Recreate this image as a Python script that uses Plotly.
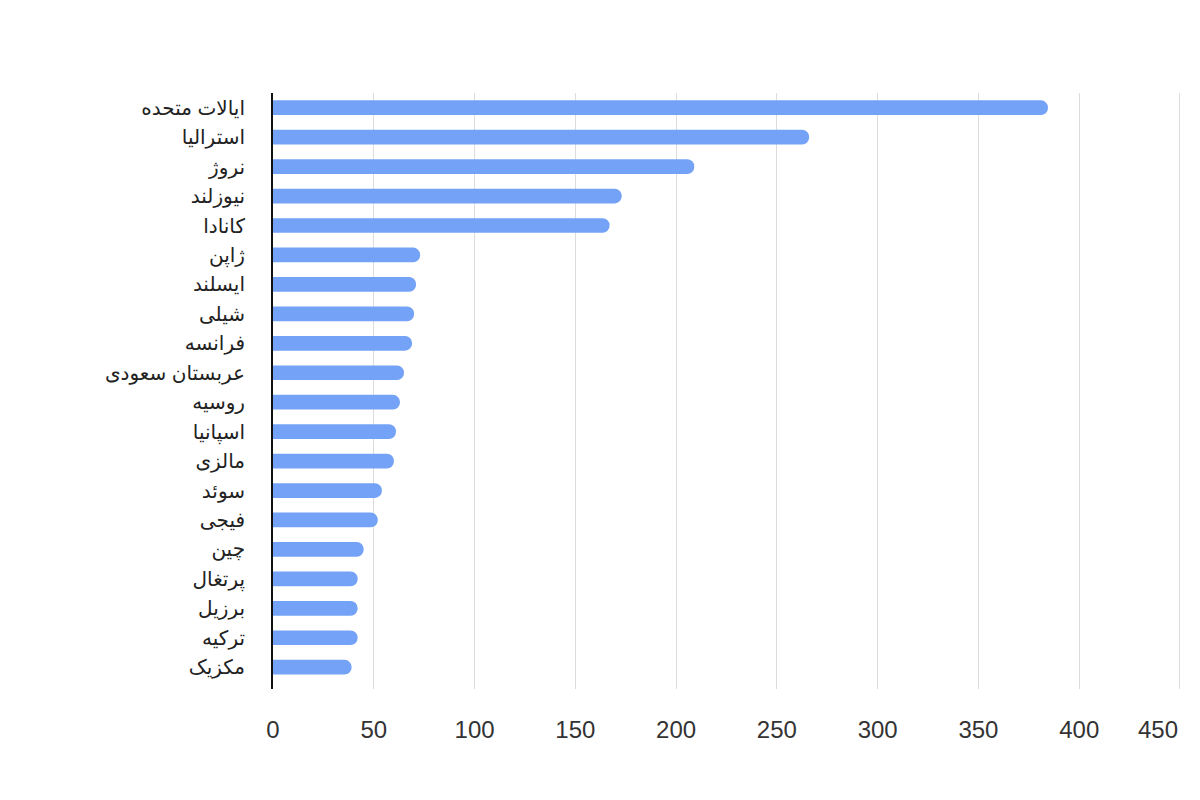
import plotly.graph_objects as go

countries = ["ایالات متحده", "استرالیا", "نروژ", "نیوزلند", "کانادا", "ژاپن", "ایسلند",
             "شیلی", "فرانسه", "عربستان سعودی", "روسیه", "اسپانیا", "مالزی", "سوئد",
             "فیجی", "چین", "پرتغال", "برزیل", "ترکیه", "مکزیک"]
values = [384.5, 266, 209, 173, 167, 73, 71, 70, 69, 65, 63, 61, 60, 54, 52, 45, 42, 42, 42, 39]
x_ticks = [0, 50, 100, 150, 200, 250, 300, 350, 400, 450]

fig = go.Figure(go.Bar(
    x=values, y=countries, orientation="h",
    marker=dict(color="#74A2F6", line=dict(width=0), cornerradius=7),
    hoverinfo="x+y",
))

# last tick label sits right-aligned against the plot edge, as in the reference
ticktext = [str(v) for v in x_ticks[:-1]] + [""]

fig.update_layout(
    width=1200, height=800,
    paper_bgcolor="white", plot_bgcolor="white",
    margin=dict(l=273, r=18, t=93, b=111),
    bargap=0.5,
    showlegend=False,
    font=dict(family="Liberation Sans, Arial, DejaVu Sans, sans-serif", size=20, color="#222222"),
    annotations=[dict(
        x=x_ticks[-1], y=0, xref="x", yref="paper", yshift=-40.5,
        text=str(x_ticks[-1]), showarrow=False, xanchor="right", yanchor="middle",
        font=dict(size=24, color="#333333"),
    )],
)
fig.update_xaxes(
    range=[0, 451], tickvals=x_ticks, ticktext=ticktext,
    showgrid=True, gridcolor="#dcdcdc", gridwidth=1,
    zeroline=False, showline=False,
    ticks="", ticklabelstandoff=24,
    tickfont=dict(size=24, color="#333333"),
    fixedrange=True,
)
fig.update_yaxes(
    categoryorder="array", categoryarray=countries,
    range=[19.74, -0.5],
    showgrid=False, zeroline=False,
    showline=True, linecolor="#111111", linewidth=2,
    ticks="", ticklabelstandoff=22,
    tickfont=dict(size=20, color="#222222"),
    fixedrange=True,
)

fig.write_html("out.html", config={"displayModeBar": False},
               post_script="document.body.style.margin='0';")
